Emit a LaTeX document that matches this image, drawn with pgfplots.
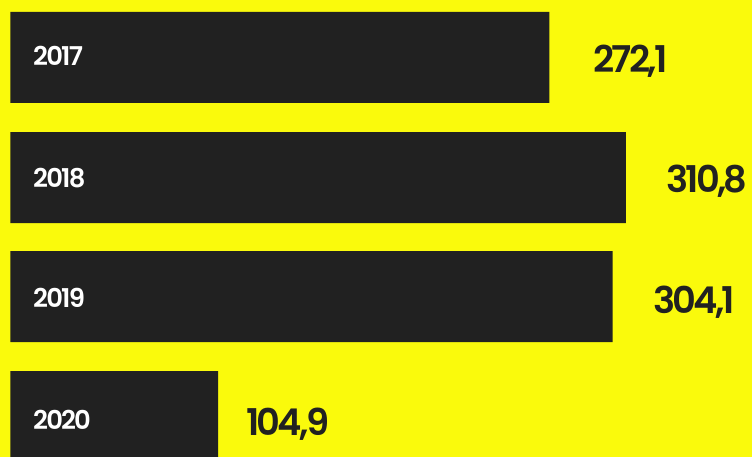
\documentclass[border=0pt]{standalone}
\usepackage{fontspec}
\setmainfont{Poppins}[BoldFont={* SemiBold}]
\usepackage{pgfplots}
\pgfplotsset{compat=1.18}
\definecolor{bg}{RGB}{250,250,12}
\definecolor{barc}{RGB}{33,33,33}
\newcommand\yfont{\fontsize{26}{26}\selectfont\bfseries\addfontfeature{LetterSpace=-7}}
\newcommand\vfont{\fontsize{37}{37}\selectfont\bfseries\addfontfeature{LetterSpace=-7.5}}
\begin{document}
\begin{tikzpicture}[x=1bp,y=1bp]
\fill[bg] (0,0) rectangle (752bp,457bp);
\begin{axis}[
  at={(0,0)}, anchor=south west,
  scale only axis, width=752bp, height=457bp,
  xmin=-5.30, xmax=374.5,
  ymin=0, ymax=457, y dir=reverse,
  axis line style={draw=none}, ticks=none,
  xbar, bar width=91, clip=true,
]
\addplot[fill=barc, draw=none] coordinates {(272.1,57.5) (310.8,177.5) (304.1,296.5) (104.9,416.5)};
\begin{scope}[every node/.style={inner sep=0pt, anchor=base west}]
\node[text=white, font=\yfont] at (axis cs:11.36,66) {2017};
\node[text=white, font=\yfont] at (axis cs:11.36,187) {2018};
\node[text=white, font=\yfont] at (axis cs:11.36,307) {2019};
\node[text=white, font=\yfont] at (axis cs:11.36,429) {2020};
\node[text=barc, font=\vfont] at (axis cs:294.2,72.7) {272,1};
\node[text=barc, font=\vfont] at (axis cs:331.1,192.7) {310,8};
\node[text=barc, font=\vfont] at (axis cs:324.5,313.3) {304,1};
\node[text=barc, font=\vfont] at (axis cs:119.0,435) {104,9};
\end{scope}
\end{axis}
\end{tikzpicture}
\end{document}
